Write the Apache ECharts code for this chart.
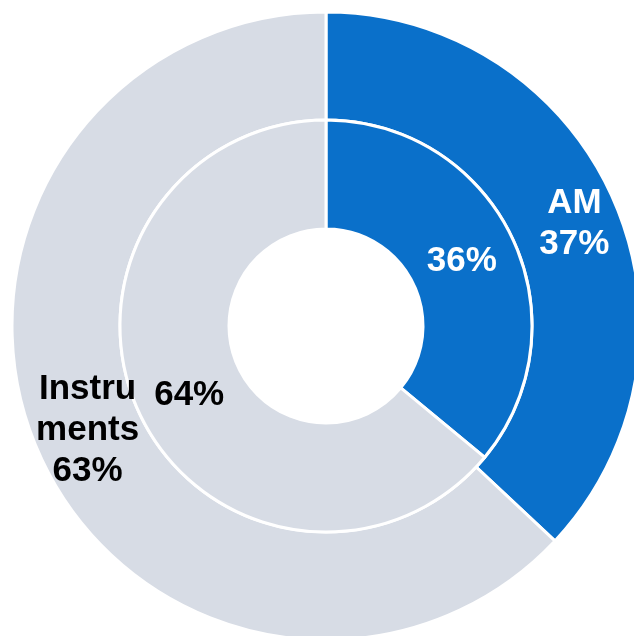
<!DOCTYPE html>
<html>
<head>
<meta charset="utf-8">
<script src="https://cdn.jsdelivr.net/npm/echarts@6/dist/echarts.min.js"></script>
<style>
  html, body { margin: 0; padding: 0; background: #ffffff; }
  #chart { width: 634px; height: 636px; }
</style>
</head>
<body>
<div id="chart"></div>
<script>
// Segment names and their wrapped display text
const categories = ['AM', 'Instruments'];
const displayNames = ['AM', 'Instru\nments'];
// Shares in percent: outer ring and inner ring
const outerValues = [37, 63];
const innerValues = [36, 64];

const sliceColors = ['#0A70CA', '#D7DCE5'];
const labelColors = ['#ffffff', '#000000'];
// small nudges for the ring labels
const outerLabelOffsets = [[7, 2], [3, 0]];
const innerLabelOffsets = [[-4, 1], [3, 4]];

const chart = echarts.init(document.getElementById('chart'), null, { renderer: 'canvas' });

const labelFont = {
  fontFamily: '"Liberation Sans", Arial, sans-serif',
  fontWeight: 'bold',
  fontSize: 35,
  lineHeight: 41,
  align: 'center'
};

function buildData(values, withName, offsets) {
  return categories.map((name, i) => ({
    name: name,
    value: values[i],
    itemStyle: { color: sliceColors[i] },
    label: {
      color: labelColors[i],
      offset: offsets[i],
      formatter: withName ? displayNames[i] + '\n' + values[i] + '%' : values[i] + '%'
    }
  }));
}

chart.setOption({
  animation: false,
  backgroundColor: '#ffffff',
  series: [
    {
      type: 'pie',
      center: [326, 326],
      radius: [206, 314],
      startAngle: 90,
      clockwise: true,
      silent: true,
      itemStyle: { borderColor: '#ffffff', borderWidth: 3 },
      label: Object.assign({ show: true, position: 'inside' }, labelFont),
      labelLine: { show: false },
      data: buildData(outerValues, true, outerLabelOffsets)
    },
    {
      type: 'pie',
      center: [326, 326],
      radius: [97, 206],
      startAngle: 90,
      clockwise: true,
      silent: true,
      itemStyle: { borderColor: '#ffffff', borderWidth: 3 },
      label: Object.assign({ show: true, position: 'inside' }, labelFont),
      labelLine: { show: false },
      data: buildData(innerValues, false, innerLabelOffsets)
    }
  ]
});
</script>
</body>
</html>
